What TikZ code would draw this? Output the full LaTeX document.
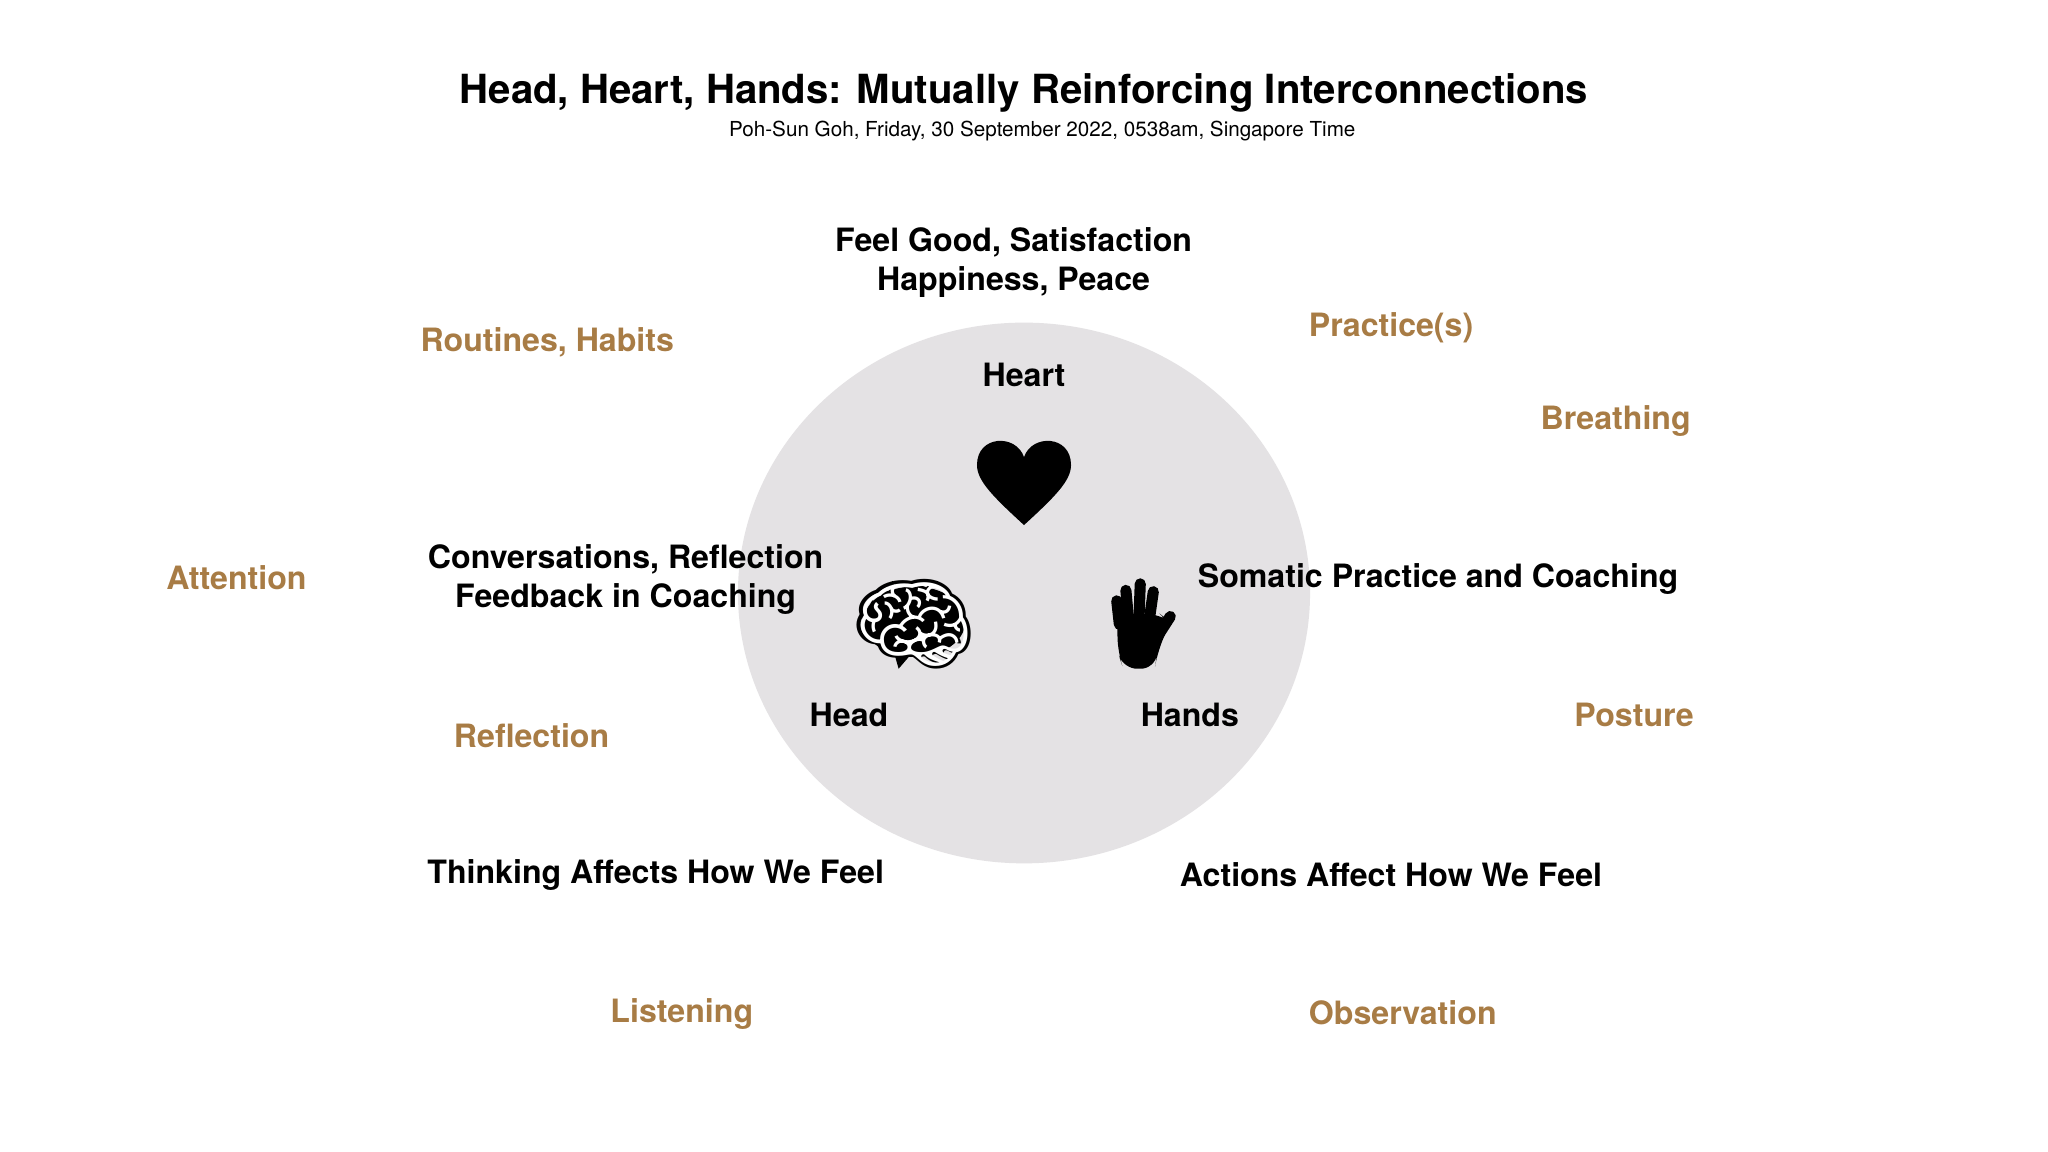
\documentclass[tikz,border=0pt]{standalone}
\usepackage{fontspec}
\setmainfont{TeX Gyre Heros}
\newfontfamily\emo{Noto Emoji}
\definecolor{gold}{HTML}{A87C45}
\definecolor{disc}{HTML}{E4E2E4}
\begin{document}
\begin{tikzpicture}[x=0.02cm,y=-0.02cm,
  blk/.style={font=\bfseries\fontsize{14}{17}\selectfont,align=center,text=black},
  gl/.style={font=\bfseries\fontsize{14}{17}\selectfont,text=gold},
  ic/.style={font=\emo},
  fing/.style={line width=0.17cm,line cap=round,black}]
\useasboundingbox (0,0) rectangle (1568,882);
\fill[white] (0,0) rectangle (1568,882);
\fill[disc] (784,454) ellipse [x radius=219, y radius=207];
\node (title) at (784,71) {\bfseries\fontsize{17.5}{20}\selectfont Head, Heart, Hands: Mutually Reinforcing Interconnections};
\node (sub) at (798,100) {\fontsize{9}{11}\selectfont Poh-Sun Goh, Friday, 30 September 2022, 0538am, Singapore Time};
\node[blk] (feel) at (776,201) {Feel Good, Satisfaction\\Happiness, Peace};
\node[blk] (heart) at (784,287) {Heart};
\node[blk] (head) at (650,547) {Head};
\node[blk] (hands) at (911,547) {Hands};
\node[blk] (conv) at (479,444) {Conversations, Reflection\\Feedback in Coaching};
\node[blk] (soma) at (1101,443) {Somatic Practice and Coaching};
\node[blk] (think) at (502,670) {Thinking Affects How We Feel};
\node[blk] (act) at (1065,670) {Actions Affect How We Feel};
\node[gl] (rout) at (419,262) {Routines, Habits};
\node[gl] (prac) at (1065,251) {Practice(s)};
\node[gl] (breath) at (1237,322) {Breathing};
\node[gl] (att) at (181,442) {Attention};
\node[gl] (refl) at (407,563) {Reflection};
\node[gl] (post) at (1251,547) {Posture};
\node[gl] (list) at (522,776) {Listening};
\node[gl] (obs) at (1074,775) {Observation};
\fill[black] (784,402) .. controls (760,380) and (748,368) .. (748,356)
  .. controls (748,333) and (778,332) .. (784,350)
  .. controls (790,332) and (820,333) .. (820,356)
  .. controls (820,368) and (808,380) .. (784,402) -- cycle;
% brain: black blob with white grooves
\node[ic,text=black,scale=4.5] (brainbg) at (700,478) {🧠};
\fill[black] (700,476) ellipse [x radius=39, y radius=27];
\fill[black] (684,498) -- (700,498) -- (688,512) -- cycle;
\node[ic,text=white,scale=4.2] (brain) at (700,478) {🧠};
% hand
\fill[black, rounded corners=6] (855,470) -- (888,470) -- (896,476) -- (886,500) -- (884,512) -- (860,512) -- (856,500) -- cycle;
\draw[fing] (857,478) -- (855,460);
\draw[fing] (864,474) -- (862,452);
\draw[fing] (872,474) -- (873,447);
\draw[fing] (880,474) -- (883,453);
\draw[fing] (887,486) -- (896,472);
\end{tikzpicture}
\end{document}
